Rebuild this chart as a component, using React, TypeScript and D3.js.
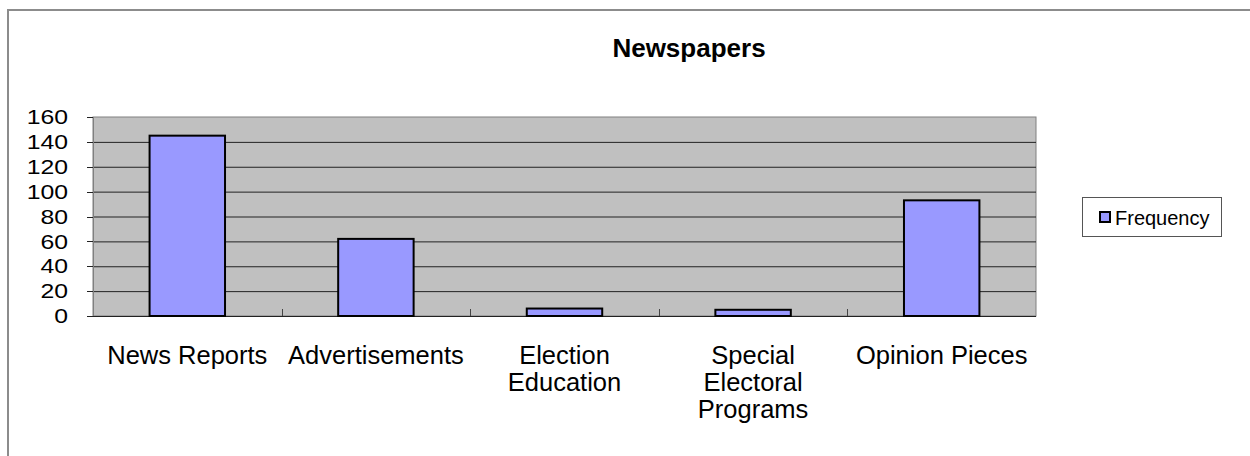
import * as d3 from 'd3';
import React from 'react';

const categories = ['News Reports', 'Advertisements', 'Election Education', 'Special Electoral Programs', 'Opinion Pieces'];
const tickLabelLines = [['News Reports'], ['Advertisements'], ['Election', 'Education'], ['Special', 'Electoral', 'Programs'], ['Opinion Pieces']];
const frequency = [145, 62, 6, 5, 93];
const yTicks = [0, 20, 40, 60, 80, 100, 120, 140, 160];
const seriesName = 'Frequency';
const title = 'Newspapers';

const W = 1250;
const H = 456;
const plot = { left: 93, right: 1036, top: 117, bottom: 316 };
const font = 'Arial, "Liberation Sans", sans-serif';

export default function App() {
  const x = d3
    .scaleBand<string>()
    .domain(categories)
    .range([plot.left, plot.right])
    .paddingInner(0.6)
    .paddingOuter(0.3);
  const y = d3.scaleLinear().domain([0, 160]).range([plot.bottom, plot.top]);
  const step = x.step();

  return (
    <svg
      width={W}
      height={H}
      style={{ position: 'absolute', left: 0, top: 0, background: '#fff' }}
      fontFamily={font}
    >
      {/* outer chart border */}
      <rect x={8} y={10} width={W + 10} height={H + 10} fill="none" stroke="#8c8c8c" strokeWidth={2} />

      <text x={689} y={57} textAnchor="middle" fontSize={26} fontWeight="bold">
        {title}
      </text>

      {/* plot area */}
      <rect
        x={plot.left}
        y={plot.top}
        width={plot.right - plot.left}
        height={plot.bottom - plot.top}
        fill="#c0c0c0"
        stroke="#808080"
        strokeWidth={1}
      />
      {yTicks.slice(1, -1).map((t) => (
        <line key={t} x1={plot.left} x2={plot.right} y1={y(t) + 0.5} y2={y(t) + 0.5} stroke="#222" strokeWidth={1} />
      ))}

      {/* y axis */}
      <line x1={plot.left + 0.5} x2={plot.left + 0.5} y1={plot.top} y2={plot.bottom} stroke="#808080" />
      {yTicks.map((t) => (
        <g key={t}>
          <line x1={plot.left - 6} x2={plot.left} y1={Math.round(y(t)) + 0.5} y2={Math.round(y(t)) + 0.5} stroke="#222" />
          <text
            transform={`translate(68,${y(t)}) scale(1.24,1)`}
            dy="0.36em"
            textAnchor="end"
            fontSize={20}
          >
            {t}
          </text>
        </g>
      ))}

      {/* x axis */}
      <line x1={plot.left - 6} x2={plot.right} y1={plot.bottom + 0.5} y2={plot.bottom + 0.5} stroke="#222" />
      {categories.slice(1).map((c) => {
        const bx = Math.round((x(c) as number) - step * 0.3) + 0.5;
        return <line key={c} x1={bx} x2={bx} y1={plot.bottom - 7} y2={plot.bottom} stroke="#444" />;
      })}

      {/* bars */}
      {categories.map((c, i) => (
        <rect
          key={c}
          x={x(c)}
          y={y(frequency[i])}
          width={x.bandwidth()}
          height={plot.bottom - y(frequency[i])}
          fill="#9999ff"
          stroke="#000"
          strokeWidth={2}
        />
      ))}

      {/* category labels */}
      {categories.map((c, i) => (
        <text key={c} x={(x(c) as number) + x.bandwidth() / 2} y={364} textAnchor="middle" fontSize={25.5}>
          {tickLabelLines[i].map((line, j) => (
            <tspan key={j} x={(x(c) as number) + x.bandwidth() / 2} dy={j === 0 ? 0 : 27}>
              {line}
            </tspan>
          ))}
        </text>
      ))}

      {/* legend */}
      <rect x={1082.5} y={197.5} width={139} height={39} fill="#fff" stroke="#555" strokeWidth={1} />
      <rect x={1100} y={212} width={10} height={10} fill="#9999ff" stroke="#000" strokeWidth={2} />
      <text x={1115} y={225} fontSize={20}>
        {seriesName}
      </text>
    </svg>
  );
}
